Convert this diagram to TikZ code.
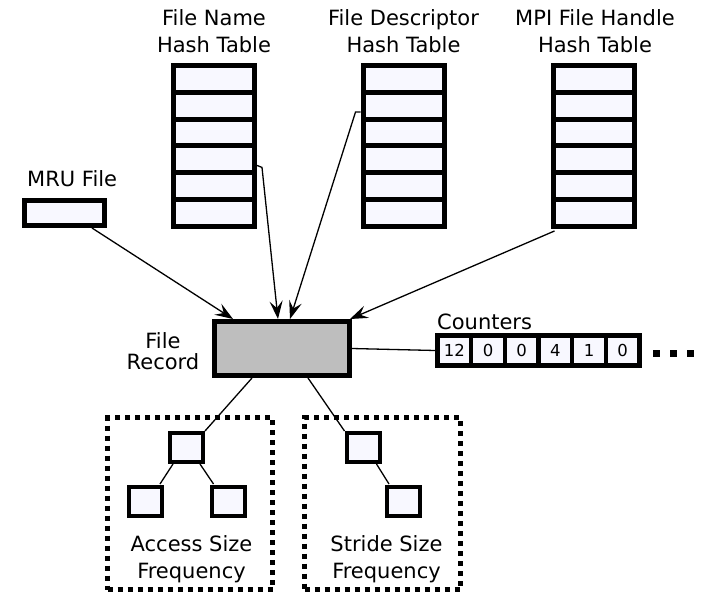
\documentclass[tikz,border=0pt]{standalone}
\usepackage{fontspec}
\setmainfont{DejaVu Sans}
\usetikzlibrary{arrows.meta,calc}
\definecolor{cellfill}{RGB}{248,248,255}
\definecolor{recfill}{RGB}{190,190,190}
\tikzset{
  lbl/.style={font=\fontsize{21}{27}\selectfont, inner sep=0pt, align=center},
  hcell/.style={draw, line width=5pt, fill=cellfill, minimum width=81pt,
    minimum height=26.83pt, inner sep=0pt},
  ccell/.style={draw, line width=4.5pt, fill=cellfill, minimum width=33.67pt,
    minimum height=30pt, inner sep=0pt, font=\fontsize{16.5}{16.5}\selectfont},
  tbox/.style={draw, line width=4pt, fill=cellfill, minimum width=33pt,
    minimum height=29pt, inner sep=0pt},
  freqbox/.style={draw, line width=4.5pt, dash pattern=on 5pt off 5pt,
    inner sep=0pt},
  link/.style={line width=1.3pt},
  arr/.style={link, -{Stealth[length=18pt,width=13pt,inset=7pt]}},
}
\begin{document}
\begin{tikzpicture}[x=1pt,y=-1pt]
\useasboundingbox (0,0) rectangle (704,597);

% hash tables
\foreach \t/\cx in {fn/214, fd/403.5, mpi/593.5}
  \foreach \i in {1,...,6}
    \node[hcell] (\t\i) at (\cx,{65.5+26.83*(\i-0.5)}) {};

% two-line labels are anchored at the baseline of their last line
\node[lbl, anchor=base] (fnlab) at (214,52) {File Name\\Hash Table};
\node[lbl, anchor=base] (fdlab) at (403.5,52) {File Descriptor\\Hash Table};
\node[lbl, anchor=base] (mpilab) at (595,52) {MPI File Handle\\Hash Table};

% most recently used file
\node[draw, line width=5pt, fill=cellfill, minimum width=80pt,
  minimum height=25pt, inner sep=0pt] (mru) at (64.5,213) {};
\node[lbl, anchor=base west] (mrulab) at (27,186) {MRU File};

% file record
\node[draw, line width=5pt, fill=recfill, minimum width=135pt,
  minimum height=54pt, inner sep=0pt] (rec) at (282,348.5) {};
\node[lbl, font=\fontsize{21}{21}\selectfont, anchor=base] (reclab)
  at (163,369) {File\\Record};

% pointers into the record
\draw[arr] ($(mru.south)+(27.5,0)$) -- ($(rec.north west)+(21,0)$);
\draw[arr] ($(fn4.east)+(0,6)$) -- ++(5,2) -- ($(rec.north west)+(66,0)$);
\draw[arr] ($(fd2.west)+(0,6.3)$) -- ++(-5,0) -- ($(rec.north west)+(78,0)$);
\draw[arr] ($(mpi6.south west)+(4,2)$) -- ($(rec.north east)+(-2,0)$);

% counters
\foreach \v [count=\i] in {12,0,0,4,1,0}
  \node[ccell] (c\i) at ({437.5+33.67*(\i-0.5)},350.5) {\v};
\node[lbl, anchor=base west] (ctrlab) at (437,329) {Counters};
\draw[link] (rec.east) -- (c1.west);
\foreach \dx in {653.3,670,686.7}
  \fill (\dx,350) rectangle ++(7,7);

% frequency trees
\node[freqbox, minimum width=165pt, minimum height=172pt] (accbox)
  at (190,503.5) {};
\node[freqbox, minimum width=156pt, minimum height=172pt] (strbox)
  at (382.5,503.5) {};

\node[tbox] (ltop) at (186.5,447.5) {};
\node[tbox] (ll) at (145.5,501.5) {};
\node[tbox] (lr) at (228,501.5) {};
\node[tbox] (rtop) at (363,447.5) {};
\node[tbox] (rl) at (403.5,501.5) {};

\draw[link] ($(rec.south west)+(40,0)$) -- (ltop.north east);
\draw[link] ($(rec.south west)+(96,0)$) -- (rtop.north west);
\draw[link] ($(ltop.south west)+(5,0)$) -- ($(ll.north east)+(-4,-1)$);
\draw[link] ($(ltop.south east)+(-5,0)$) -- ($(lr.north west)+(4,-1)$);
\draw[link] ($(rtop.south east)+(-5,0)$) -- ($(rl.north west)+(4,-1)$);

\node[lbl, anchor=base] (acclab) at (191.5,578) {Access Size\\Frequency};
\node[lbl, anchor=base] (strlab) at (386.5,578) {Stride Size\\Frequency};
\end{tikzpicture}
\end{document}
